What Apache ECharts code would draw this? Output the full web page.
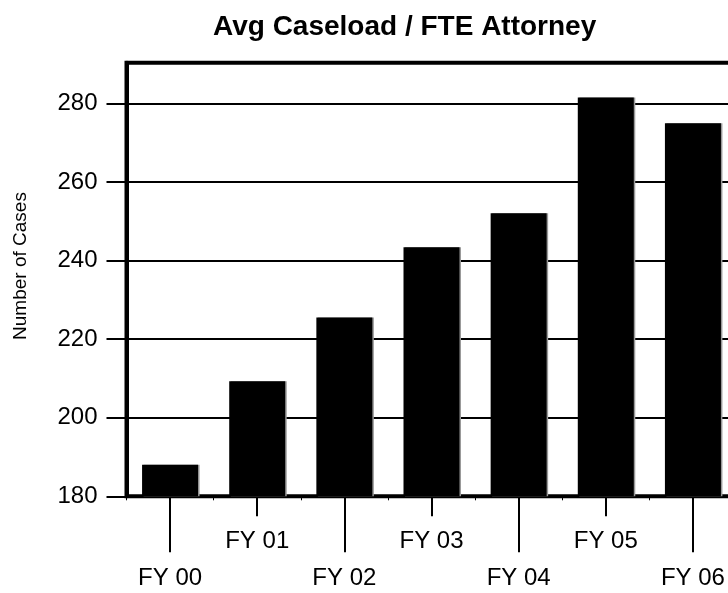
<!DOCTYPE html>
<html>
<head>
<meta charset="utf-8">
<title>Avg Caseload / FTE Attorney</title>
<script src="https://cdn.jsdelivr.net/npm/echarts@6/dist/echarts.min.js"></script>
<style>
    html, body { margin: 0; padding: 0; background: #fff; }
    #chart { width: 728px; height: 593px; }
</style>
</head>
<body>
<div id="chart"></div>
<script>
    // data
    const categories = ['FY 00', 'FY 01', 'FY 02', 'FY 03', 'FY 04', 'FY 05', 'FY 06'];
    const caseload = [188.0, 209.3, 225.5, 243.4, 252.0, 281.5, 274.9];
    const yMin = 180, yMax = 290.3, yStep = 20;

    const font = 'Liberation Sans, Arial, Helvetica, sans-serif';
    const chart = echarts.init(document.getElementById('chart'));

    // odd / even labels sit on two rows, each with its own tick length
    const isOdd = function (i) { return i % 2 === 1; };
    const isEven = function (i) { return i % 2 === 0; };

    chart.setOption({
        animation: false,
        title: {
            text: 'Avg Caseload / FTE Attorney',
            left: 208,
            top: 8,
            textStyle: { fontFamily: font, fontSize: 28, fontWeight: 'bold', color: '#000' }
        },
        // y axis title sits a bit above the plot middle in the original
        graphic: [
            {
                type: 'text',
                x: 21,
                y: 266,
                rotation: Math.PI / 2,
                style: {
                    text: 'Number of Cases',
                    fontFamily: font,
                    fontSize: 19,
                    fill: '#000',
                    align: 'center',
                    verticalAlign: 'middle'
                }
            }
        ],
        grid: {
            left: 126.5,
            top: 62.8,
            right: -8.5,
            bottom: 96.7,
            containLabel: false,
            outerBoundsMode: 'none',
            show: true,
            borderColor: '#000',
            borderWidth: 4
        },
        xAxis: [
            {
                type: 'category',
                data: categories,
                position: 'bottom',
                axisLine: { lineStyle: { color: '#000', width: 3 } },
                axisTick: { show: true, length: 4, lineStyle: { color: '#000', width: 1 } },
                axisLabel: { show: false }
            },
            {
                type: 'category',
                data: categories,
                position: 'bottom',
                offset: 0,
                axisLine: { show: false },
                axisTick: { show: true, alignWithLabel: true, interval: isOdd, length: 20, lineStyle: { color: '#000', width: 2 } },
                axisLabel: { interval: isOdd, margin: 33, fontFamily: font, fontSize: 24, color: '#000' }
            },
            {
                type: 'category',
                data: categories,
                position: 'bottom',
                offset: 0,
                axisLine: { show: false },
                axisTick: { show: true, alignWithLabel: true, interval: isEven, length: 56, lineStyle: { color: '#000', width: 2 } },
                axisLabel: { interval: isEven, margin: 70, fontFamily: font, fontSize: 24, color: '#000' }
            }
        ],
        yAxis: {
            type: 'value',
            min: yMin,
            max: yMax,
            interval: yStep,
            axisLine: { show: true, lineStyle: { color: '#000', width: 4 } },
            axisTick: { show: true, length: 20, lineStyle: { color: '#000', width: 2 } },
            axisLabel: { margin: 29, showMaxLabel: false, fontFamily: font, fontSize: 24, color: '#000' },
            splitLine: { lineStyle: { color: '#000', width: 2 } }
        },
        series: [
            {
                name: 'Avg Caseload',
                type: 'bar',
                xAxisIndex: 0,
                data: caseload,
                barWidth: 56,
                itemStyle: {
                    color: '#000',
                    shadowColor: '#999',
                    shadowOffsetX: 1.5,
                    shadowBlur: 0
                }
            }
        ]
    });

    window.onresize = function () {
        chart.resize();
    };
</script>
</body>
</html>
